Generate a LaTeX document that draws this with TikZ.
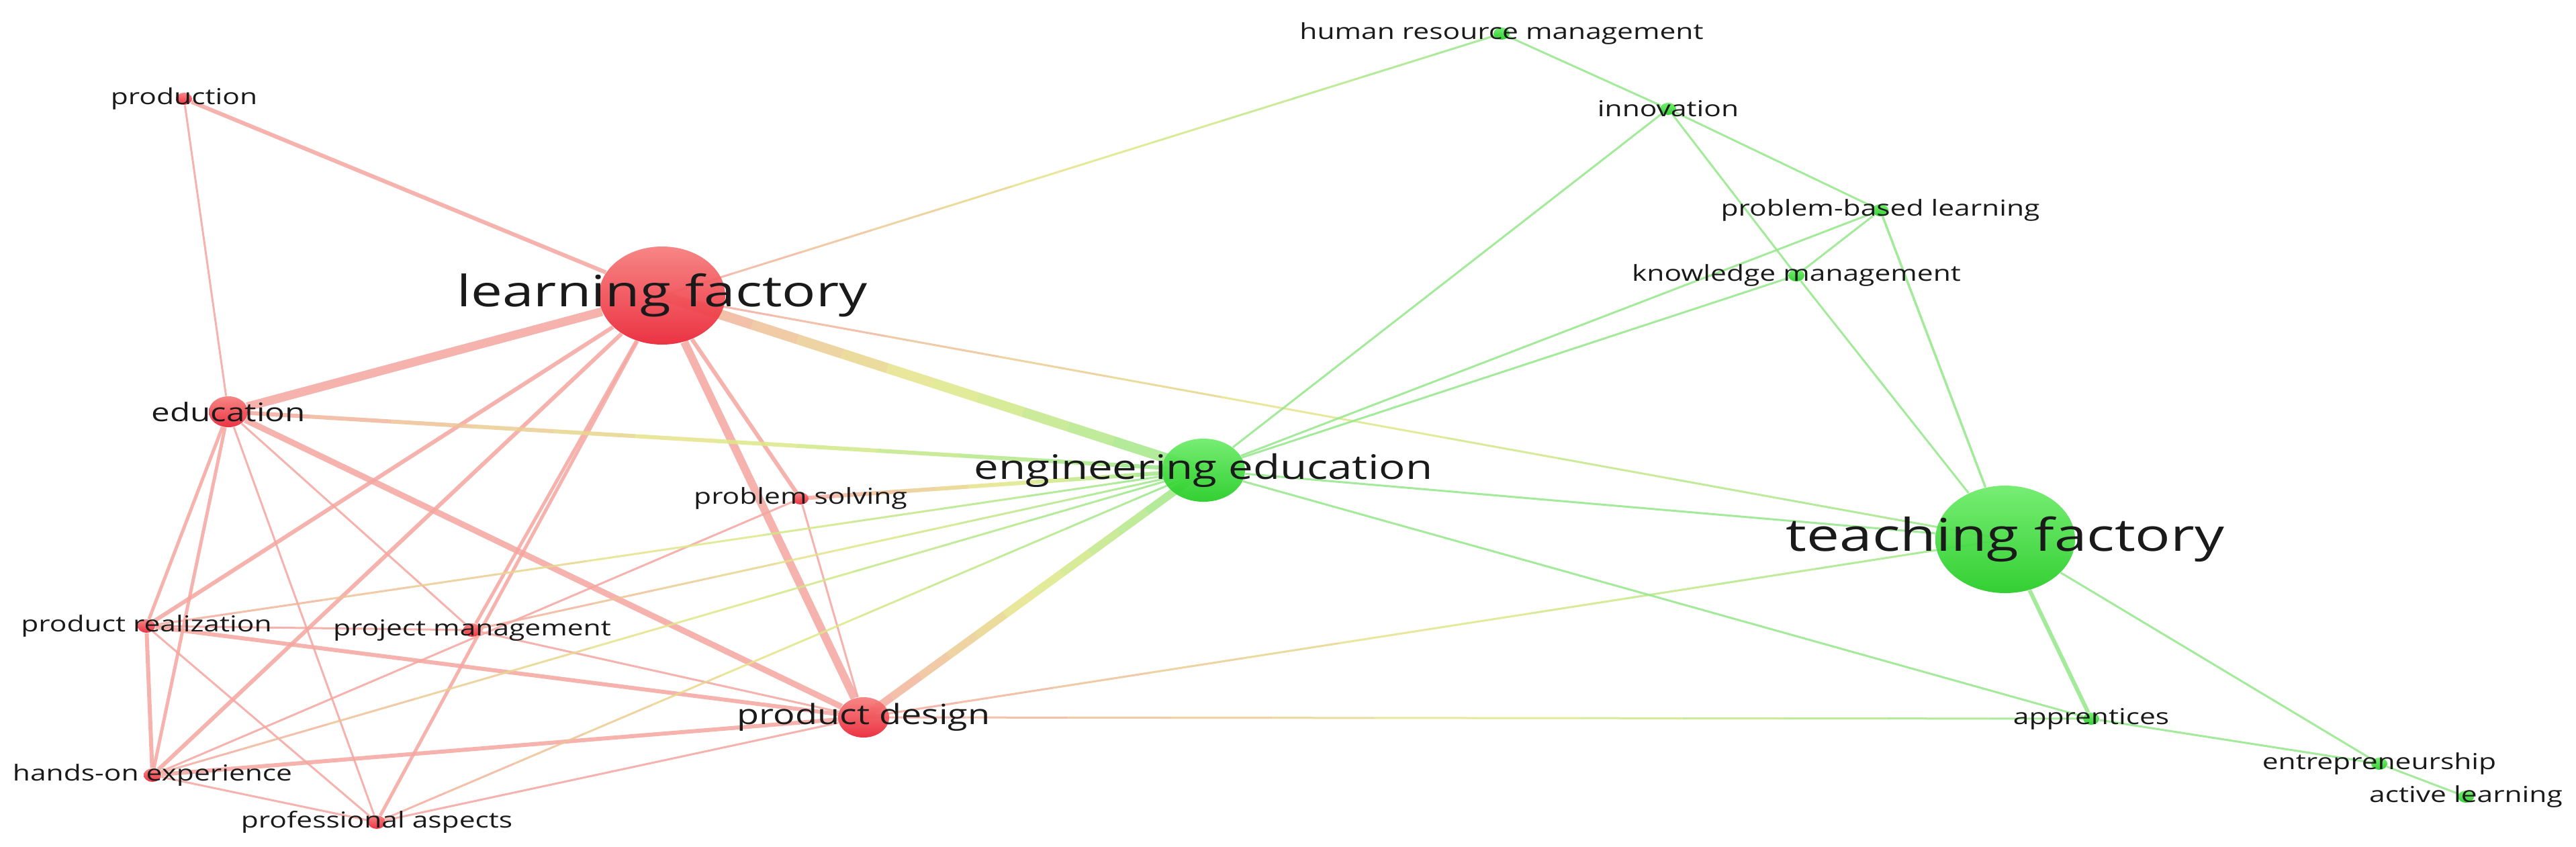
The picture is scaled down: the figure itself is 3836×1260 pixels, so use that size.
\documentclass[tikz,border=0pt]{standalone}
\usepackage{fontspec}
\setsansfont{Open Sans}[FakeStretch=1.3]
\usetikzlibrary{calc,shapes.geometric,backgrounds}

\definecolor{kwred}{RGB}{234,34,52}
\definecolor{kwredtop}{RGB}{247,124,122}
\definecolor{kwgreen}{RGB}{34,204,34}
\definecolor{kwgreentop}{RGB}{108,236,104}
\definecolor{linkred}{RGB}{245,166,160}
\definecolor{linkyellow}{RGB}{228,232,136}
\definecolor{linkgreen}{RGB}{148,232,138}
\definecolor{labelgray}{RGB}{26,26,26}

% link between the two clusters, red end first
\newcommand{\mixlink}[3]{%
  \foreach \k in {0,...,11}{%
    \pgfmathsetmacro\ta{\k/12}%
    \pgfmathsetmacro\tb{(\k+1)/12}%
    \pgfmathtruncatemacro\mix{abs(100-200*(\k+0.5)/12)}%
    \ifnum\k<6 \colorlet{segcol}{linkred!\mix!linkyellow}\else\colorlet{segcol}{linkgreen!\mix!linkyellow}\fi
    \draw[link,lw=#1,segcol] ($(#2)!\ta!(#3)$) -- ($(#2)!\tb!(#3)$);
  }}

\begin{document}
\begin{tikzpicture}[x=0.01cm,y=-0.01cm,font=\sffamily,
  kw/.style n args={3}{ellipse,draw=none,inner sep=0pt,minimum width={2*#2*0.01cm},minimum height={2*#3*0.01cm},top color=#1top,bottom color=#1,fill opacity=0.92},
  lbl/.style={font=\sffamily\fontsize{#1}{#1}\selectfont,text=labelgray,anchor=mid,inner sep=0pt,text opacity=1},
  lw/.style={line width={#1*0.01cm}},
  link/.style={draw opacity=0.85,line cap=butt},
  redlink/.style={link,linkred,lw=#1},
  greenlink/.style={link,linkgreen,lw=#1}]
\useasboundingbox (0,0) rectangle (3836,1260);

% red cluster
\node[kw={kwred}{94}{73},label={[lbl=18.3]center:learning factory}] (lf) at (986,440) {};
\node[kw={kwred}{29}{23},label={[lbl=10.8]center:education}] (edu) at (340,613) {};
\node[kw={kwred}{38}{30},label={[lbl=11.8]center:product design}] (pdes) at (1286,1068) {};
\node[kw={kwred}{12}{9},label={[lbl=9.3]center:production}] (prod) at (274,147) {};
\node[kw={kwred}{12}{9},label={[lbl=9.3]center:problem solving}] (psol) at (1192,742) {};
\node[kw={kwred}{13}{10},label={[lbl=9.3]center:product realization}] (preal) at (218,932) {};
\node[kw={kwred}{13}{10},label={[lbl=9.3]center:project management}] (pman) at (703,938) {};
\node[kw={kwred}{13}{10},label={[lbl=9.3]center:hands-on experience}] (hands) at (227,1154) {};
\node[kw={kwred}{13}{10},label={[lbl=9.3]center:professional aspects}] (paspect) at (561,1224) {};

% green cluster
\node[kw={kwgreen}{62}{47},label={[lbl=14.3]center:engineering education}] (ee) at (1792,700) {};
\node[kw={kwgreen}{104}{80},label={[lbl=19.1]center:teaching factory}] (tf) at (2986,803) {};
\node[kw={kwgreen}{12}{9},label={[lbl=9.3]center:human resource management}] (hrm) at (2236,50) {};
\node[kw={kwgreen}{12}{9},label={[lbl=9.3]center:innovation}] (innov) at (2484,162) {};
\node[kw={kwgreen}{12}{9},label={[lbl=9.3]center:problem-based learning}] (pbl) at (2800,313) {};
\node[kw={kwgreen}{12}{9},label={[lbl=9.3]center:knowledge management}] (km) at (2675,410) {};
\node[kw={kwgreen}{12}{9},label={[lbl=9.3]center:apprentices}] (appr) at (3114,1070) {};
\node[kw={kwgreen}{12}{9},label={[lbl=9.3]center:entrepreneurship}] (entre) at (3543,1137) {};
\node[kw={kwgreen}{12}{9},label={[lbl=9.3]center:active learning}] (active) at (3672,1186) {};

\begin{scope}[on background layer]
\fill[white] (0,0) rectangle (3836,1260);
% links inside the red cluster
\draw[redlink=6] (lf) -- (prod);
\draw[redlink=3] (prod) -- (edu);
\draw[redlink=13] (lf) -- (edu);
\draw[redlink=12] (lf) -- (pdes);
\draw[redlink=6] (lf) -- (psol);
\draw[redlink=6] (lf) -- (preal);
\draw[redlink=6] (lf) -- (hands);
\draw[redlink=5] (lf) -- (pman);
\draw[redlink=5] (lf) -- (paspect);
\draw[redlink=9] (edu) -- (pdes);
\draw[redlink=5] (edu) -- (preal);
\draw[redlink=5] (edu) -- (hands);
\draw[redlink=3] (edu) -- (pman);
\draw[redlink=3] (edu) -- (paspect);
\draw[redlink=6] (preal) -- (hands);
\draw[redlink=6] (preal) -- (pdes);
\draw[redlink=3] (preal) -- (pman);
\draw[redlink=3] (preal) -- (paspect);
\draw[redlink=6] (hands) -- (pdes);
\draw[redlink=3] (hands) -- (paspect);
\draw[redlink=3] (hands) -- (psol);
\draw[redlink=3] (pman) -- (pdes);
\draw[redlink=3] (psol) -- (pdes);
\draw[redlink=3] (paspect) -- (pdes);
% links between the clusters
\mixlink{15}{lf}{ee}
\mixlink{3}{lf}{hrm}
\mixlink{3}{lf}{tf}
\mixlink{6}{edu}{ee}
\mixlink{6}{psol}{ee}
\mixlink{12}{pdes}{ee}
\mixlink{3}{pdes}{tf}
\mixlink{3}{pdes}{appr}
\mixlink{3}{preal}{ee}
\mixlink{3}{pman}{ee}
\mixlink{3}{hands}{ee}
\mixlink{3}{paspect}{ee}
% links inside the green cluster
\draw[greenlink=3] (ee) -- (innov);
\draw[greenlink=3] (ee) -- (km);
\draw[greenlink=3] (ee) -- (pbl);
\draw[greenlink=3] (ee) -- (tf);
\draw[greenlink=3] (ee) -- (appr);
\draw[greenlink=3] (hrm) -- (innov);
\draw[greenlink=3] (innov) -- (pbl);
\draw[greenlink=3] (innov) -- (km);
\draw[greenlink=3] (km) -- (tf);
\draw[greenlink=3] (pbl) -- (km);
\draw[greenlink=3.5] (pbl) -- (tf);
\draw[greenlink=6] (tf) -- (appr);
\draw[greenlink=3] (tf) -- (entre);
\draw[greenlink=3] (appr) -- (entre);
\draw[greenlink=3] (entre) -- (active);
\end{scope}
\end{tikzpicture}
\end{document}
